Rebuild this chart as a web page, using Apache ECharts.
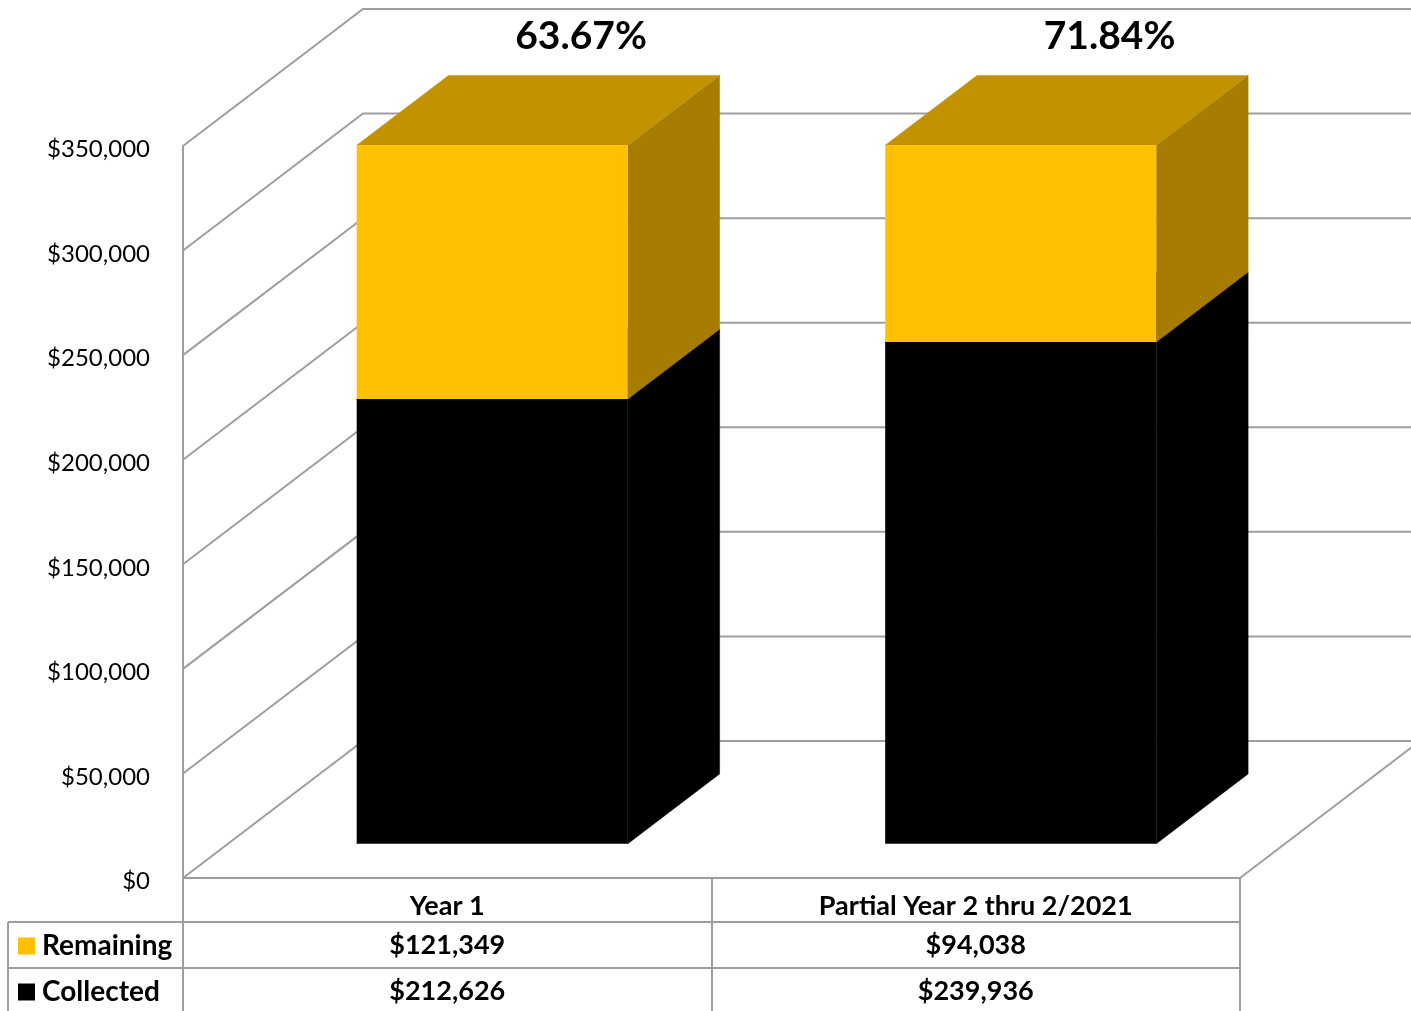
<!DOCTYPE html>
<html><head><meta charset="utf-8">
<script src="https://cdn.jsdelivr.net/npm/echarts@6/dist/echarts.min.js"></script>
<style>html,body{margin:0;padding:0;background:#fff}#c{width:1411px;height:1011px}</style>
</head><body><div id="c"></div>
<script>
// ---- data ----
const categories = ['Year 1', 'Partial Year 2 thru 2/2021'];
const remaining = [121349, 94038];
const collected = [212626, 239936];
const yTicks = [0, 50000, 100000, 150000, 200000, 250000, 300000, 350000];
const seriesNames = ['Remaining', 'Collected'];

// ---- style constants ----
const FONT = 'Lato';
const GRID = '#9e9e9e';
const DX = 180, DY = -137;      // oblique depth projection of the walls
const F0 = 0.25, F1 = 0.76;     // bar depth range (fraction of wall depth)
const BAR_FRAC = 0.513;         // bar width as fraction of category width
const COLORS = {
  Remaining: {front: '#FFC000', side: '#A67D00', top: '#C39200'},
  Collected: {front: '#000000', side: '#000000', top: '#000000'}
};
const ROW_OFFSET = {Remaining: 67, Collected: 113}; // table rows below axis

function money(v) { return '$' + Number(v).toLocaleString('en-US'); }

const remData = categories.map((c, i) => [i, collected[i], collected[i] + remaining[i], remaining[i], collected[i]]);
const colData = categories.map((c, i) => [i, 0, collected[i], collected[i], collected[i]]);

function barRender(name) {
  return function (params, api) {
    const cat = api.value(0), lo = api.value(1), hi = api.value(2), val = api.value(3), col = api.value(4);
    const w = api.size([1, 0])[0] * BAR_FRAC;
    const base = api.coord([cat, 0]);
    const yLo = api.coord([cat, lo])[1], yHi = api.coord([cat, hi])[1];
    const x0 = base[0] - w / 2 + F0 * DX, x1 = x0 + w;
    const ddx = (F1 - F0) * DX, ddy = (F1 - F0) * DY;
    const yb = yLo + F0 * DY, yt = yHi + F0 * DY;
    const c = COLORS[name];
    const children = [
      {type: 'polygon', shape: {points: [[x1, yb], [x1 + ddx, yb + ddy], [x1 + ddx, yt + ddy], [x1, yt]]}, style: {fill: c.side, stroke: c.side, lineWidth: 0.5}},
      {type: 'polygon', shape: {points: [[x0, yt], [x1, yt], [x1 + ddx, yt + ddy], [x0 + ddx, yt + ddy]]}, style: {fill: c.top, stroke: c.top, lineWidth: 0.5}},
      {type: 'rect', shape: {x: x0, y: yt, width: w, height: yb - yt}, style: {fill: c.front}},
      {type: 'text', style: {x: base[0], y: base[1] + ROW_OFFSET[name], text: money(val), align: 'center', verticalAlign: 'middle',
        font: 'bold 27px ' + FONT, fill: '#000'}}
    ];
    if (name === 'Remaining') {
      const pct = (col / hi * 100).toFixed(2) + '%';
      children.push({type: 'text', style: {x: x0 + w / 2 + ddx - 3, y: yt + ddy - 39, text: pct, align: 'center', verticalAlign: 'middle',
        font: 'bold 39px ' + FONT, fill: '#000'}});
    }
    return {type: 'group', children: children};
  };
}

function wallRender(params, api) {
  const cs = params.coordSys;
  const v = api.value(1);
  const y = api.coord([0, v])[1];
  const left = cs.x, right = cs.x + cs.width;
  const lineStyle = {stroke: GRID, lineWidth: 2, fill: null};
  const children = [
    {type: 'polyline', shape: {points: [[left, y], [left + DX, y + DY], [right + DX, y + DY]]}, style: lineStyle}
  ];
  if (v === 0) {
    children.push({type: 'line', shape: {x1: right, y1: y, x2: right + DX, y2: y + DY}, style: lineStyle});
  }
  return {type: 'group', children: children};
}

const legendCommon = {
  orient: 'horizontal', left: 18, padding: 0, itemWidth: 17, itemHeight: 17, icon: 'rect', selectedMode: false,
  textStyle: {fontFamily: FONT, fontWeight: 'bold', fontSize: 28, color: '#000', padding: [0, 0, 0, 2]}
};

const chart = echarts.init(document.getElementById('c'), null, {renderer: 'canvas'});
chart.setOption({
  animation: false,
  backgroundColor: '#fff',
  textStyle: {fontFamily: FONT},
  grid: {left: 183, right: 171, top: 146, bottom: 133, containLabel: false},
  legend: [
    Object.assign({}, legendCommon, {data: [seriesNames[0]], top: 932}),
    Object.assign({}, legendCommon, {data: [seriesNames[1]], top: 978})
  ],
  xAxis: {
    type: 'category', data: categories,
    axisLine: {show: true, lineStyle: {color: GRID, width: 2}},
    axisTick: {show: true, interval: 0, length: 133, lineStyle: {color: GRID, width: 2}},
    axisLabel: {interval: 0, margin: 15, fontFamily: FONT, fontWeight: 'bold', fontSize: 27, color: '#000'},
    splitLine: {show: false}
  },
  yAxis: {
    type: 'value', min: 0, max: 350000, interval: 50000,
    axisLine: {show: true, lineStyle: {color: GRID, width: 2}},
    axisTick: {show: false},
    axisLabel: {margin: 33, color: '#000', formatter: v => '{v|' + money(v) + '}',
      rich: {v: {fontFamily: FONT, fontSize: 24, color: '#000', padding: [7, 0, 0, 0]}}},
    splitLine: {show: false}
  },
  graphic: [
    {type: 'line', shape: {x1: 8, y1: 922, x2: 1240, y2: 922}, style: {stroke: GRID, lineWidth: 2}},
    {type: 'line', shape: {x1: 8, y1: 968, x2: 1240, y2: 968}, style: {stroke: GRID, lineWidth: 2}},
    {type: 'line', shape: {x1: 8, y1: 922, x2: 8, y2: 1011}, style: {stroke: GRID, lineWidth: 2}}
  ],
  series: [
    {type: 'custom', name: 'walls', z: 1, renderItem: wallRender, encode: {x: 0, y: 1},
      data: yTicks.map(v => [0, v]), silent: true},
    {type: 'custom', name: 'Collected', z: 2, itemStyle: {color: COLORS.Collected.front},
      renderItem: barRender('Collected'), encode: {x: 0, y: [1, 2]}, data: colData},
    {type: 'custom', name: 'Remaining', z: 3, itemStyle: {color: COLORS.Remaining.front},
      renderItem: barRender('Remaining'), encode: {x: 0, y: [1, 2]}, data: remData}
  ]
});
</script>
</body></html>
